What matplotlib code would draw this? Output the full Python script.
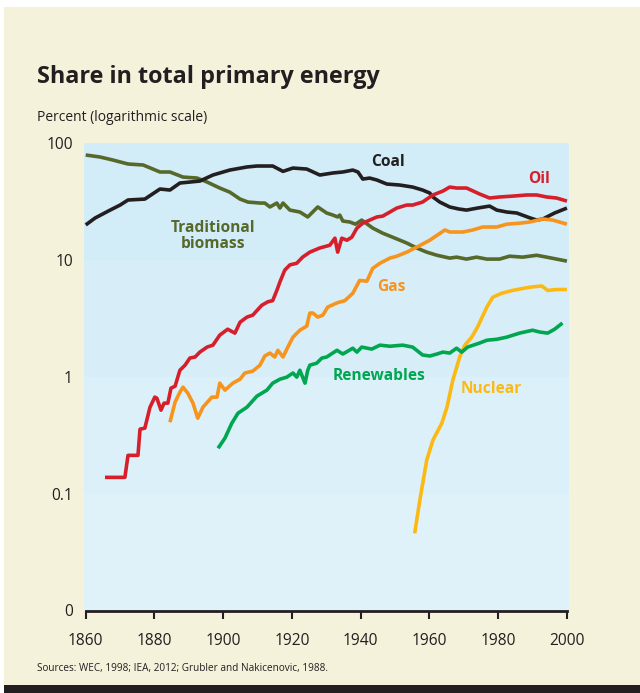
import matplotlib
matplotlib.use("Agg")
import matplotlib.pyplot as plt
from matplotlib.patches import Rectangle
from matplotlib import font_manager as fm

# ---------------- data (percent of total primary energy) ----------------
coal_years = [1860, 1862.7, 1867.1, 1870, 1872.3, 1877.2, 1881.6, 1884.5, 1887.4, 1893.2,
              1897, 1901.9, 1906.9, 1909.8, 1914.4, 1917.4, 1920.3, 1924.3, 1928.1, 1931.9,
              1934.8, 1937.7, 1939.2, 1940.6, 1942.6, 1944.7, 1947.6, 1951.4, 1955.1, 1958,
              1960.1, 1961, 1963, 1965.9, 1968.5, 1970.8, 1974, 1977.5, 1979.6, 1982.5,
              1985.4, 1989.2, 1991.2, 1993, 1996.4, 2000]
coal_vals = [20.0, 22.9, 26.8, 29.6, 32.7, 33.3, 40.6, 39.8, 45.7, 47.5,
             53.5, 59.0, 62.7, 63.9, 63.9, 57.5, 61.4, 60.2, 53.5, 55.7,
             56.8, 59.0, 56.8, 49.4, 50.4, 48.5, 44.8, 43.9, 42.2, 39.8,
             37.5, 34.7, 31.4, 28.5, 27.4, 26.8, 27.9, 29.0, 26.8, 25.8,
             25.3, 23.0, 22.0, 22.5, 25.3, 27.9]

biomass_years = [1860, 1864.2, 1867.9, 1872.3, 1876.7, 1881.6, 1884.5, 1888.3, 1892.4, 1895.3,
                 1899, 1901.9, 1904.9, 1907.2, 1910.7, 1912.1, 1913.6, 1915.6, 1916.5, 1917.4,
                 1919.4, 1922.3, 1924.6, 1927.5, 1930.1, 1931.9, 1933.3, 1933.9, 1934.8, 1936.8,
                 1938.5, 1940.3, 1943.5, 1946.4, 1949.3, 1953.4, 1956.3, 1959.2, 1962.2, 1965.9,
                 1967.9, 1970.8, 1973.7, 1976.7, 1980.4, 1983.3, 1987.1, 1991.2, 1994.1, 1997, 2000]
biomass_vals = [79.4, 76.3, 71.9, 66.5, 65.2, 56.8, 56.8, 51.4, 50.4, 46.6,
                41.4, 38.2, 33.3, 31.4, 30.8, 30.8, 28.5, 30.8, 27.9, 30.8,
                26.8, 25.8, 23.4, 28.5, 25.3, 24.3, 23.4, 24.3, 21.6, 21.2,
                20.3, 22.0, 18.8, 17.0, 15.7, 14.0, 12.7, 11.7, 11.0, 10.4,
                10.6, 10.2, 10.6, 10.2, 10.2, 10.8, 10.6, 11.0, 10.6, 10.2, 9.8]

oil_years = [1865.6, 1871.4, 1872.3, 1875.2, 1875.8, 1877.2, 1878.7, 1880.1, 1880.7, 1881.9,
             1882.8, 1883.9, 1884.8, 1886, 1887.4, 1888.9, 1890.3, 1891.8, 1893.2, 1895.3,
             1897, 1899, 1901.3, 1903.4, 1904.9, 1906.9, 1908.6, 1911.2, 1913, 1914.4,
             1915.6, 1916.5, 1917.9, 1919.4, 1921.4, 1923.1, 1925.2, 1928.1, 1931, 1932.5,
             1933.3, 1934.5, 1936, 1937.4, 1938.9, 1940.6, 1942.6, 1944.7, 1946.4, 1948.5,
             1950.5, 1953.4, 1955.1, 1958, 1961, 1963.9, 1965.9, 1967.9, 1970.8, 1974.6,
             1977.5, 1980.4, 1984.2, 1988.3, 1991.2, 1994.1, 1997, 2000]
oil_vals = [0.138, 0.138, 0.213, 0.213, 0.357, 0.364, 0.550, 0.671, 0.657, 0.519,
            0.596, 0.596, 0.801, 0.833, 1.14, 1.26, 1.45, 1.48, 1.63, 1.80,
            1.87, 2.28, 2.56, 2.37, 2.94, 3.25, 3.38, 4.1, 4.4, 4.5,
            5.5, 6.5, 8.2, 9.1, 9.4, 10.6, 11.7, 12.7, 13.4, 15.4,
            11.7, 15.4, 14.8, 15.7, 18.8, 20.7, 22.0, 23.4, 23.8, 25.8,
            27.9, 29.6, 29.6, 31.4, 36.1, 39.0, 42.2, 41.4, 41.4, 36.8,
            34.0, 34.7, 35.3, 36.1, 36.1, 34.7, 34.0, 32.0]

gas_years = [1884.5, 1886, 1887.4, 1888.3, 1889.7, 1891.2, 1892.6, 1894.1, 1896.7, 1898.2,
             1899, 1900.5, 1902.8, 1904.9, 1906.3, 1908.6, 1910.7, 1912.1, 1913.6, 1915,
             1915.9, 1917.4, 1918.8, 1920.3, 1922.3, 1924.3, 1925.2, 1926.1, 1927.5, 1929,
             1930.4, 1933.1, 1935.4, 1937.7, 1939.7, 1941.8, 1943.5, 1945.6, 1948.5, 1950.5,
             1953.4, 1956.3, 1960.1, 1964.5, 1965.9, 1969.7, 1972.6, 1975.5, 1979.6, 1982.5,
             1986.2, 1989.2, 1993, 1995.9, 2000]
gas_vals = [0.409, 0.608, 0.740, 0.817, 0.726, 0.596, 0.443, 0.550, 0.671, 0.671,
            0.884, 0.770, 0.884, 0.956, 1.08, 1.12, 1.26, 1.51, 1.60, 1.48,
            1.69, 1.48, 1.80, 2.19, 2.51, 2.72, 3.52, 3.52, 3.25, 3.38,
            3.96, 4.3, 4.5, 5.2, 6.7, 6.6, 8.5, 9.4, 10.4, 10.8,
            11.7, 12.9, 14.8, 18.1, 17.4, 17.4, 18.1, 19.2, 19.2, 20.3,
            20.7, 21.2, 22.5, 22.0, 20.3]

renew_years = [1898.5, 1900.5, 1902.5, 1904.3, 1906.9, 1909.8, 1912.7, 1914.4, 1916.5, 1918.5,
               1920.3, 1921.4, 1922.3, 1923.8, 1924.6, 1925.2, 1927.2, 1928.7, 1930.1, 1933.1,
               1934.8, 1937.7, 1938.9, 1940.3, 1943.2, 1945.6, 1948.5, 1952.2, 1955.1, 1958,
               1960.1, 1962.2, 1963.9, 1965.9, 1967.9, 1969.4, 1971.1, 1974.6, 1976.7, 1979.6,
               1982.5, 1986.2, 1990, 1992.1, 1994.4, 1996.4, 1998.7]
renew_vals = [0.245, 0.299, 0.401, 0.489, 0.550, 0.684, 0.770, 0.884, 0.956, 0.995,
              1.08, 0.995, 1.14, 0.884, 1.14, 1.26, 1.31, 1.45, 1.48, 1.69,
              1.57, 1.76, 1.63, 1.80, 1.73, 1.87, 1.83, 1.87, 1.80, 1.54,
              1.51, 1.57, 1.63, 1.60, 1.76, 1.63, 1.80, 1.95, 2.06, 2.10,
              2.19, 2.37, 2.51, 2.42, 2.37, 2.56, 2.89]

nuclear_years = [1955.7, 1957.2, 1959.2, 1961, 1963.6, 1965.1, 1966.8, 1968.8, 1970.3, 1972.3,
                 1974, 1976.7, 1978.4, 1981, 1984.2, 1988.3, 1990, 1992.7, 1994.4, 1997, 2000]
nuclear_vals = [0.0458, 0.0879, 0.193, 0.287, 0.401, 0.550, 0.937, 1.48, 1.87, 2.19,
                2.67, 3.96, 4.8, 5.2, 5.5, 5.8, 5.9, 6.0, 5.5, 5.6, 5.6]

ytick_vals = [0.01, 0.1, 1, 10, 100]
ytick_labels = ["0", "0.1", "1", "10", "100"]
xtick_vals = [1860, 1880, 1900, 1920, 1940, 1960, 1980, 2000]

title = "Share in total primary energy"
subtitle = "Percent (logarithmic scale)"
source = "Sources: WEC, 1998; IEA, 2012; Grubler and Nakicenovic, 1988."

# ---------------- fonts ----------------
names = {f.name for f in fm.fontManager.ttflist}
if "Liberation Sans Narrow" in names:
    FONT = "Liberation Sans Narrow"
    k = 1.0
else:
    FONT = "Open Sans"
    k = 0.8
plt.rcParams["font.family"] = [FONT, "DejaVu Sans"]

W, H = 640, 693
fig = plt.figure(figsize=(W / 100, H / 100), dpi=100)
fig.patch.set_facecolor("white")

CREAM = "#f5f2dc"
TXT = "#231f20"
fig.patches.append(Rectangle((4 / W, 1 - 685 / H), 1 - 4 / W, (685 - 7) / H,
                             transform=fig.transFigure, facecolor=CREAM, edgecolor="none", zorder=-10))
fig.patches.append(Rectangle((4 / W, 0), 1 - 4 / W, 8 / H,
                             transform=fig.transFigure, facecolor="#231f20", edgecolor="none", zorder=-10))

ax = fig.add_axes([84 / W, (H - 610.5) / H, (569 - 84) / W, (610.5 - 143.3) / H])
ax.set_zorder(1)
ax.set_yscale("log")
ax.set_ylim(0.01, 100)
ax.set_xlim(1859.5, 2000.6)
ax.set_facecolor("none")

band_colors = ["#dff2fa", "#dbf0f9", "#d7eef9", "#d2ecf8"]
for lo, c in zip([0.01, 0.1, 1, 10], band_colors):
    ax.axhspan(lo, lo * 10, color=c, lw=0, zorder=0)

lw = 2.6
series = [
    (biomass_years, biomass_vals, "#56692b"),
    (coal_years, coal_vals, "#231f20"),
    (gas_years, gas_vals, "#f7941e"),
    (oil_years, oil_vals, "#d71f2b"),
    (nuclear_years, nuclear_vals, "#fdb913"),
    (renew_years, renew_vals, "#00a650"),
]
for xs, ys, c in series:
    ax.plot(xs, ys, color=c, lw=lw, solid_joinstyle="round", solid_capstyle="butt", zorder=3)

lab_fs = 14 * k
ax.text(1947.9, 69.1, "Coal", color="#231f20", fontsize=lab_fs, fontweight="bold", ha="center", va="center")
ax.text(1991.8, 49.4, "Oil", color="#d71f2b", fontsize=lab_fs, fontweight="bold", ha="center", va="center")
ax.text(1897, 16.1, "Traditional\nbiomass", color="#56692b", fontsize=lab_fs, fontweight="bold",
        ha="center", va="center", linespacing=1.05)
ax.text(1949, 5.87, "Gas", color="#f7941e", fontsize=lab_fs, fontweight="bold", ha="center", va="center")
ax.text(1945.3, 1.01, "Renewables", color="#00a650", fontsize=lab_fs, fontweight="bold", ha="center", va="center")
ax.text(1978.1, 0.784, "Nuclear", color="#fdb913", fontsize=lab_fs, fontweight="bold", ha="center", va="center")

for s in ["top", "right", "left"]:
    ax.spines[s].set_visible(False)
ax.spines["bottom"].set_bounds(1860, 2000)
ax.spines["bottom"].set_linewidth(2)
ax.spines["bottom"].set_color(TXT)
ax.spines["bottom"].set_zorder(5)

ax.set_xticks(xtick_vals)
ax.set_xticklabels([str(v) for v in xtick_vals])
ax.tick_params(axis="x", direction="out", length=6, width=1.5, color=TXT,
               labelsize=14 * k, labelcolor=TXT, pad=10)
ax.set_yticks(ytick_vals)
ax.set_yticklabels(ytick_labels)
ax.yaxis.set_minor_locator(matplotlib.ticker.NullLocator())
ax.tick_params(axis="y", length=0, labelsize=14 * k, labelcolor=TXT, pad=8)

fig.text(37 / W, 1 - 83 / H, title, fontsize=21 * k, fontweight="bold", color=TXT, ha="left", va="baseline")
fig.text(37 / W, 1 - 121 / H, subtitle, fontsize=12.5 * k, color=TXT, ha="left", va="baseline")
fig.text(37 / W, 1 - 671 / H, source, fontsize=9 * k, color=TXT, ha="left", va="baseline")

fig.savefig("out.png", dpi=100, facecolor="white")
